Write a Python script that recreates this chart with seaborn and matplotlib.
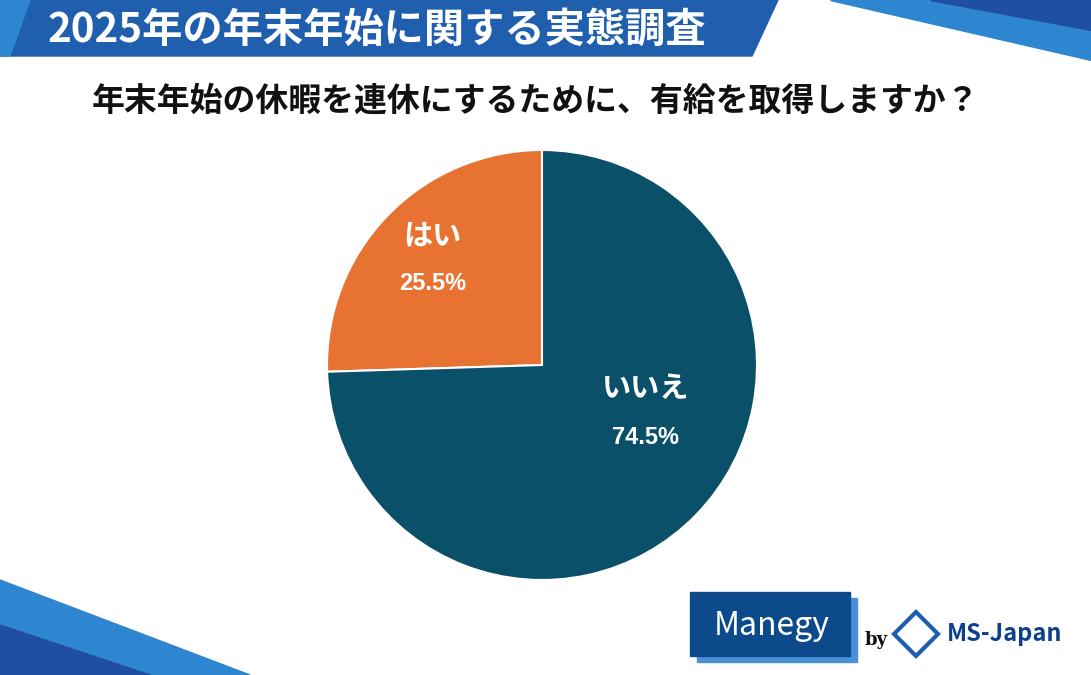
import matplotlib
matplotlib.use("Agg")
import matplotlib.pyplot as plt
import seaborn as sns
from matplotlib.patches import Polygon, Rectangle

sns.set_theme(style="white")
plt.rcParams['font.family'] = ['Noto Sans CJK JP', 'DejaVu Sans']

labels = ["はい", "いいえ"]
values = [25.5, 74.5]
colors = ["#E87232", "#0B5069"]
title = "2025年の年末年始に関する実態調査"
question = "年末年始の休暇を連休にするために、有給を取得しますか？"

W, H = 1091, 675
fig = plt.figure(figsize=(W/100, H/100), dpi=100)
bg = fig.add_axes([0, 0, 1, 1])
bg.set_xlim(0, W); bg.set_ylim(H, 0); bg.axis("off")

# header band
bg.add_patch(Polygon([(0, 0), (778, 0), (752, 56), (0, 56)], color="#1F5FAE"))
bg.add_patch(Polygon([(0, 0), (30, 0), (10, 56), (0, 56)], color="#2E86D0"))
bg.text(48, 30, title, color="white", fontsize=29, fontweight="bold", va="center")
# top-right decoration
bg.add_patch(Polygon([(830, 0), (1091, 0), (1091, 60)], color="#2E86D0"))
bg.add_patch(Polygon([(930, 0), (1091, 0), (1091, 30)], color="#1F4FA0"))
# bottom-left decoration
bg.add_patch(Polygon([(0, 580), (250, 675), (0, 675)], color="#2E86D0"))
bg.add_patch(Polygon([(0, 625), (150, 675), (0, 675)], color="#1F4FA0"))

bg.text(536, 101, question, fontsize=23.7, fontweight="bold", ha="center", va="center", color="#111111")

# logos
bg.add_patch(Rectangle((697, 598), 160, 64, color="#4A90D9"))
bg.add_patch(Rectangle((690, 592), 160, 64, color="#0D4A8C"))
bg.text(772, 626, "Manegy", color="white", fontsize=23, ha="center", va="center")
bg.text(876, 640, "by", color="#111111", fontsize=13, ha="center", va="center", family="DejaVu Serif", fontweight="bold")
bg.add_patch(Polygon([(916, 612), (938, 634), (916, 656), (894, 634)], facecolor="white", edgecolor="#1F5FAE", lw=3))
bg.text(1005, 634, "MS-Japan", color="#0D3F8C", fontsize=17, fontweight="bold", fontstyle="italic", ha="center", va="center")

# pie
r = 215
ax = fig.add_axes([(542-r)/W, 1-(365+r)/H, 2*r/W, 2*r/H])
wedges, _ = ax.pie(values, colors=colors, startangle=90, counterclock=True,
                   wedgeprops=dict(edgecolor="white", linewidth=1.5))
ax.set_aspect("equal"); ax.axis("off")
ax.set_xlim(-1, 1); ax.set_ylim(-1, 1)
pos = [(-0.51, 0.60, 0.38), (0.48, -0.107, -0.335)]
for (x, y1, y2), lab, v in zip(pos, labels, values):
    ax.text(x, y1, lab, color="white", fontsize=21, fontweight="bold", ha="center", va="center")
    ax.text(x, y2, f"{v}%", color="white", fontsize=17, fontweight="bold", ha="center", va="center", family="Liberation Sans")

fig.savefig("out.png", dpi=100)
